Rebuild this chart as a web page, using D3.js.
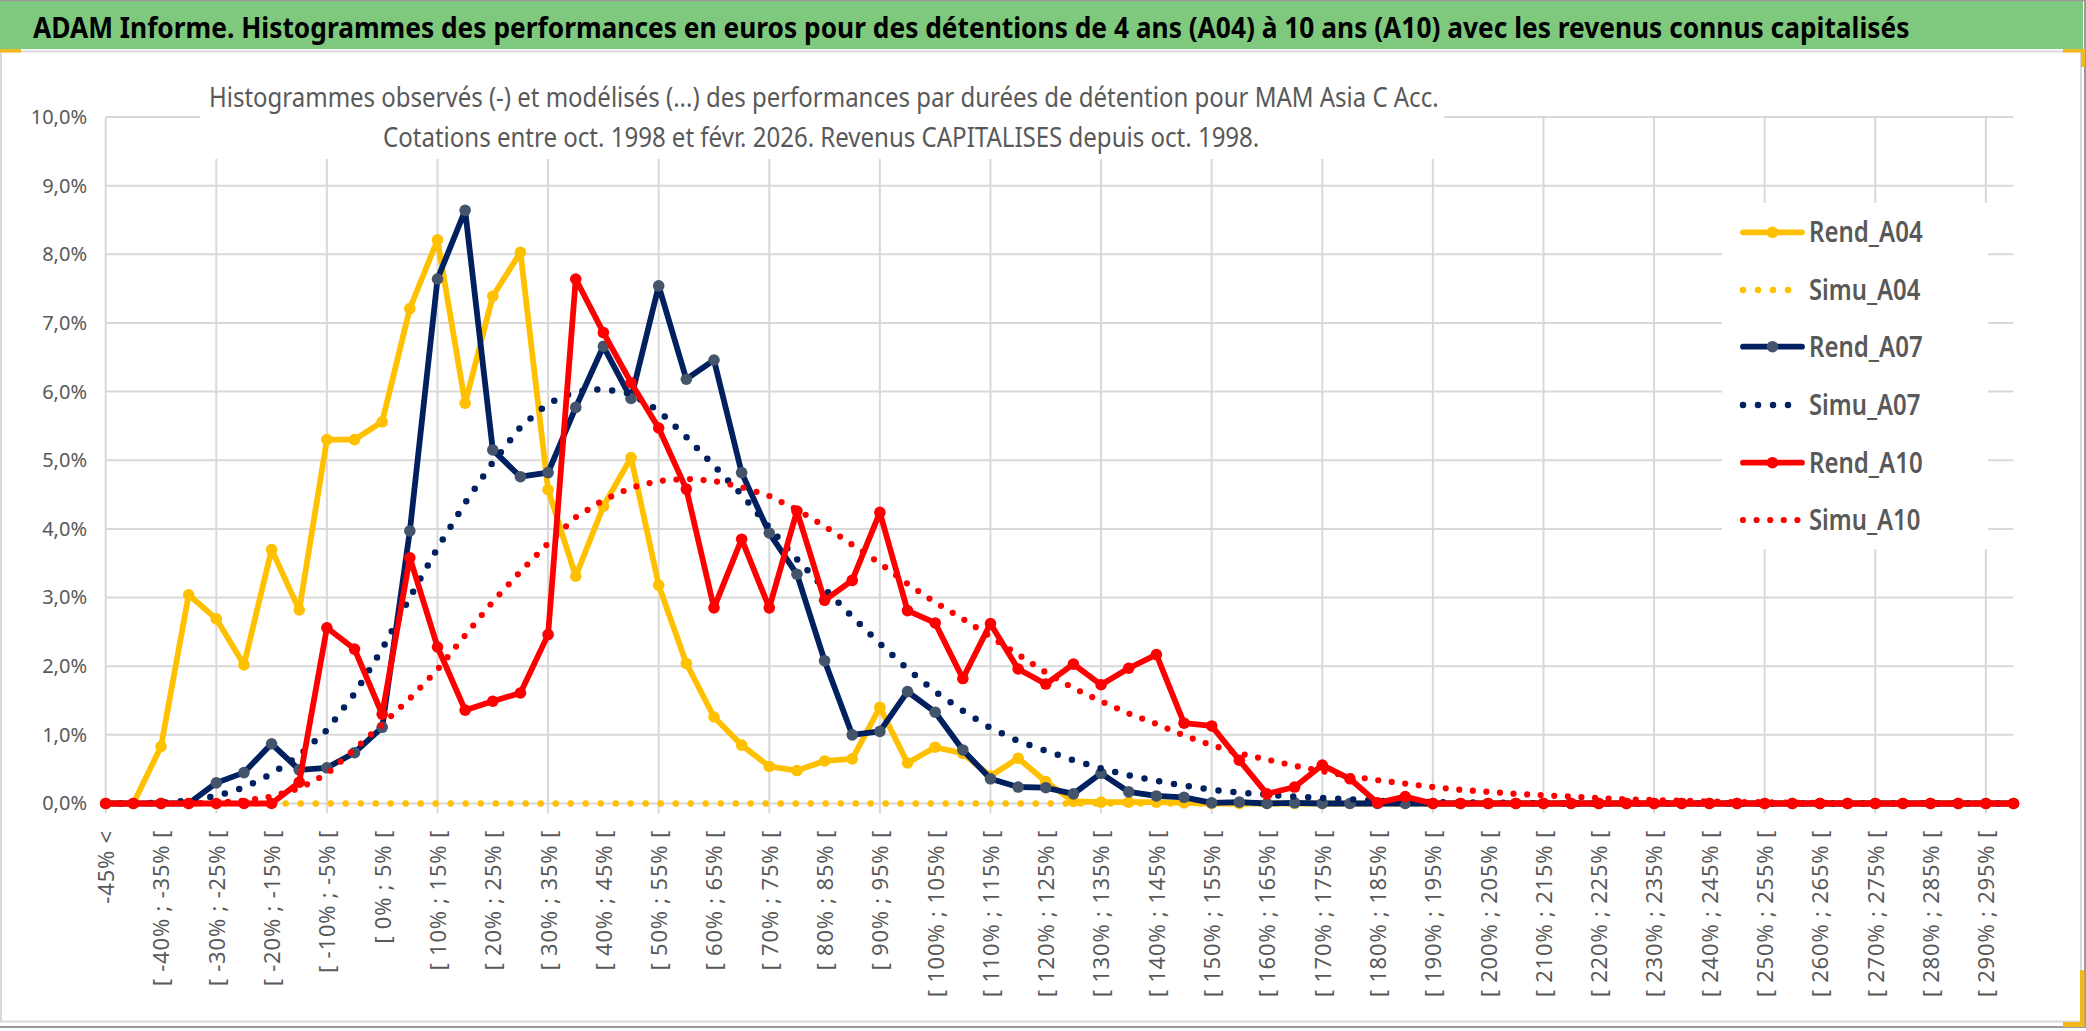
<!DOCTYPE html>
<html lang="fr">
<head>
  <meta charset="UTF-8">
  <title>ADAM Informe - Histogrammes des performances</title>
  <style>
    html, body { margin: 0; padding: 0; background: #fff; }
    svg { display: block; font-family: "Noto Sans", "Open Sans", sans-serif; }
  </style>
</head>
<body>
  <svg width="2086" height="1031" id="chart"></svg>
  <script src="https://cdn.jsdelivr.net/npm/d3@7/dist/d3.min.js"></script>
  <script>
    // classes de performance : "-45% <" puis [ b% ; b+5% [ de -45% a 300%
    const lowerBounds = d3.range(-45, 300, 5);
    const categories = ['-45% <'].concat(lowerBounds.map(b => `[ ${b}% ; ${b + 5}% [`));

    const yTicks = [0, 1, 2, 3, 4, 5, 6, 7, 8, 9, 10];

    // frequences en %
    const rendA04 = [0, 0, 0.83, 3.04, 2.69, 2.02, 3.70, 2.82, 5.30, 5.30,
      5.56, 7.21, 8.21, 5.83, 7.39, 8.03, 4.57, 3.31, 4.33, 5.04,
      3.18, 2.04, 1.26, 0.85, 0.54, 0.48, 0.62, 0.65, 1.40, 0.59,
      0.82, 0.73, 0.40, 0.66, 0.32, 0.03, 0.02, 0.02, 0.02, 0.01,
      0, 0, 0, 0, 0, 0, 0, 0, 0, 0,
      0, 0, 0, 0, 0, 0, 0, 0, 0, 0,
      0, 0, 0, 0, 0, 0, 0, 0, 0, 0];

    const simuA04 = [0, 0, 0, 0, 0, 0, 0, 0, 0, 0,
      0, 0, 0, 0, 0, 0, 0, 0, 0, 0,
      0, 0, 0, 0, 0, 0, 0, 0, 0, 0,
      0, 0, 0, 0, 0, 0, 0, 0, 0, 0,
      0, 0, 0, 0, 0, 0, 0, 0, 0, 0,
      0, 0, 0, 0, 0, 0, 0, 0, 0, 0,
      0, 0, 0, 0, 0, 0, 0, 0, 0, 0];

    const rendA07 = [0, 0, 0, 0, 0.30, 0.45, 0.87, 0.49, 0.52, 0.74,
      1.11, 3.97, 7.64, 8.64, 5.15, 4.76, 4.82, 5.77, 6.66, 5.90,
      7.54, 6.18, 6.46, 4.82, 3.94, 3.34, 2.08, 1.00, 1.05, 1.63,
      1.33, 0.78, 0.36, 0.24, 0.23, 0.14, 0.44, 0.17, 0.11, 0.09,
      0.01, 0.02, 0, 0.01, 0, 0, 0, 0, 0, 0,
      0, 0, 0, 0, 0, 0, 0, 0, 0, 0,
      0, 0, 0, 0, 0, 0, 0, 0, 0, 0];

    const simuA07 = [0, 0, 0.01, 0.04, 0.11, 0.23, 0.43, 0.70, 1.07, 1.60,
      2.25, 3.00, 3.72, 4.38, 4.97, 5.48, 5.83, 6.00, 6.04, 5.97,
      5.72, 5.34, 4.92, 4.50, 4.02, 3.56, 3.13, 2.72, 2.33, 1.96,
      1.63, 1.35, 1.10, 0.91, 0.77, 0.63, 0.51, 0.41, 0.33, 0.26,
      0.20, 0.16, 0.13, 0.10, 0.08, 0.06, 0.04, 0.03, 0.02, 0.02,
      0.01, 0.01, 0, 0, 0, 0, 0, 0, 0, 0,
      0, 0, 0, 0, 0, 0, 0, 0, 0, 0];

    const rendA10 = [0, 0, 0, 0, 0, 0, 0, 0.31, 2.56, 2.25,
      1.30, 3.58, 2.28, 1.36, 1.49, 1.61, 2.46, 7.64, 6.86, 6.13,
      5.47, 4.58, 2.85, 3.85, 2.85, 4.26, 2.96, 3.25, 4.24, 2.81,
      2.63, 1.82, 2.62, 1.96, 1.74, 2.03, 1.73, 1.97, 2.17, 1.17,
      1.13, 0.63, 0.14, 0.24, 0.56, 0.36, 0.01, 0.10, 0, 0,
      0, 0, 0, 0, 0, 0, 0, 0, 0, 0,
      0, 0, 0, 0, 0, 0, 0, 0, 0, 0];

    const simuA10 = [0, 0, 0, 0, 0.01, 0.04, 0.10, 0.22, 0.43, 0.79,
      1.15, 1.53, 1.95, 2.45, 2.94, 3.38, 3.79, 4.17, 4.42, 4.60,
      4.70, 4.73, 4.70, 4.61, 4.48, 4.28, 4.04, 3.77, 3.50, 3.20,
      2.93, 2.69, 2.43, 2.17, 1.91, 1.68, 1.49, 1.31, 1.16, 0.99,
      0.85, 0.73, 0.64, 0.55, 0.47, 0.40, 0.34, 0.29, 0.24, 0.20,
      0.17, 0.14, 0.12, 0.10, 0.08, 0.06, 0.05, 0.04, 0.03, 0.02,
      0.02, 0.01, 0.01, 0, 0, 0, 0, 0, 0, 0];

    const series = [
      { name: 'Rend_A04', values: rendA04, color: '#FFC000', marker: '#FFC000' },
      { name: 'Simu_A04', values: simuA04, color: '#FFC000', dot: 15 },
      { name: 'Rend_A07', values: rendA07, color: '#002060', marker: '#44546A' },
      { name: 'Simu_A07', values: simuA07, color: '#002060', dot: 15 },
      { name: 'Rend_A10', values: rendA10, color: '#FF0000', marker: '#FF0000' },
      { name: 'Simu_A10', values: simuA10, color: '#FF0000', dot: 13.6 }
    ];

    const titleText = 'ADAM Informe. Histogrammes des performances en euros pour des détentions de 4 ans (A04) à 10 ans (A10) avec les revenus connus capitalisés';
    const subtitle1 = 'Histogrammes observés (-) et modélisés (...) des performances par durées de détention pour MAM Asia C Acc.';
    const subtitle2 = 'Cotations entre oct. 1998 et févr. 2026. Revenus CAPITALISES depuis oct. 1998.';

    const svg = d3.select('#chart');
    const W = +svg.attr('width');
    const grey = '#595959';
    const gridColor = '#D9D9D9';

    const plot = { left: 105.7, right: 2013.5, top: 117, bottom: 803.5 };

    const x = d3.scalePoint().domain(categories).range([plot.left, plot.right]);
    const y = d3.scaleLinear().domain([0, 10]).range([plot.bottom, plot.top]);

    // resserre un texte a la largeur voulue (police plus large que l'original)
    function fitText(sel, x0, y0, width) {
      sel.attr('x', 0).attr('y', 0);
      const w = sel.node().getComputedTextLength();
      sel.attr('transform', `translate(${x0},${y0}) scale(${width / w},1)`);
    }

    // fond, bandeau vert, cadres
    svg.append('rect').attr('width', W).attr('height', 1031).attr('fill', '#fff');
    svg.append('rect').attr('x', 1).attr('y', 51.5).attr('width', 2080).attr('height', 970)
        .attr('fill', 'none').attr('stroke', gridColor).attr('stroke-width', 2);
    svg.append('rect').attr('x', 0).attr('y', 0).attr('width', 2083).attr('height', 49)
        .attr('fill', '#7EC97E');
    svg.append('line').attr('x1', 0).attr('x2', W).attr('y1', 0.5).attr('y2', 0.5)
        .attr('stroke', '#9a9a9a').attr('stroke-width', 1.5);
    svg.append('line').attr('x1', 2085).attr('x2', 2085).attr('y1', 0).attr('y2', 1028)
        .attr('stroke', '#9a9a9a').attr('stroke-width', 2);
    svg.append('line').attr('x1', 0).attr('x2', W).attr('y1', 1027).attr('y2', 1027)
        .attr('stroke', '#9a9a9a').attr('stroke-width', 2);

    // coins jaunes (selection)
    const corner = svg.append('g').attr('fill', '#F2B81E');
    corner.append('rect').attr('x', 0).attr('y', 49).attr('width', 21).attr('height', 3.5);
    corner.append('rect').attr('x', 2063).attr('y', 49).attr('width', 22).attr('height', 3.5);
    corner.append('rect').attr('x', 2081).attr('y', 49).attr('width', 4).attr('height', 18);
    corner.append('rect').attr('x', 2080).attr('y', 970).attr('width', 4.5).attr('height', 57);
    corner.append('rect').attr('x', 2063).attr('y', 1022).attr('width', 21).attr('height', 5);

    const title = svg.append('text')
        .attr('font-size', 29).attr('font-weight', 700).attr('fill', '#000')
        .text(titleText);
    fitText(title, 33, 38, 1877);

    // grilles
    const grid = svg.append('g').attr('stroke', gridColor).attr('stroke-width', 2);
    grid.selectAll('line.h').data(yTicks).join('line').attr('class', 'h')
        .attr('x1', plot.left).attr('x2', plot.right)
        .attr('y1', d => y(d)).attr('y2', d => y(d));
    grid.selectAll('line.v').data(categories.filter((d, i) => i % 4 === 0)).join('line').attr('class', 'v')
        .attr('x1', d => x(d)).attr('x2', d => x(d))
        .attr('y1', plot.top).attr('y2', plot.bottom + 10);

    // axe des ordonnees
    const yAxis = svg.append('g')
        .attr('transform', `translate(${plot.left},0)`)
        .call(d3.axisLeft(y).tickValues(yTicks).tickSize(0).tickPadding(18.7)
            .tickFormat(d => d.toFixed(1).replace('.', ',') + '%'));
    yAxis.select('.domain').remove();
    yAxis.selectAll('text').attr('font-size', 20).attr('fill', grey)
        .attr('font-family', '"Noto Sans", sans-serif');

    // axe des abscisses (une etiquette sur deux)
    const xAxis = svg.append('g')
        .attr('transform', `translate(0,${plot.bottom})`)
        .call(d3.axisBottom(x).tickValues(categories.filter((d, i) => i % 2 === 0)).tickSize(0));
    xAxis.select('.domain').remove();
    xAxis.selectAll('text')
        .attr('transform', 'rotate(-90)')
        .attr('text-anchor', 'end')
        .attr('x', -26.5).attr('y', 0).attr('dy', '0.36em')
        .attr('font-size', 22).attr('letter-spacing', 0.8).attr('fill', grey)
        .attr('font-family', '"Noto Sans", sans-serif');

    // sous-titre sur fond blanc
    svg.append('rect').attr('x', 200).attr('y', 60).attr('width', 1244).attr('height', 99).attr('fill', '#fff');
    const sub1 = svg.append('text').attr('font-size', 28).attr('fill', grey).text(subtitle1);
    fitText(sub1, 209, 106.5, 1230);
    const sub2 = svg.append('text').attr('font-size', 28).attr('fill', grey).text(subtitle2);
    fitText(sub2, 383, 147, 877);

    // courbes
    const line = d3.line()
        .x((d, i) => x(categories[i]))
        .y(d => y(d));

    series.forEach(s => {
      const g = svg.append('g');
      const path = g.append('path').datum(s.values)
          .attr('d', line)
          .attr('fill', 'none')
          .attr('stroke', s.color)
          .attr('stroke-linejoin', 'round')
          .attr('stroke-linecap', 'round');
      if (s.dot) {
        path.attr('stroke-width', s.dot > 14 ? 6.5 : 6.2).attr('stroke-dasharray', `0 ${s.dot}`);
      } else {
        path.attr('stroke-width', 5.8);
        g.selectAll('circle').data(s.values).join('circle')
            .attr('cx', (d, i) => x(categories[i]))
            .attr('cy', d => y(d))
            .attr('r', 5.8)
            .attr('fill', s.marker);
      }
    });

    // legende
    const legend = svg.append('g');
    legend.append('rect').attr('x', 1722).attr('y', 203).attr('width', 266).attr('height', 346).attr('fill', '#fff');
    const legendY = [232.3, 290, 346.7, 405, 462.7, 520];
    series.forEach((s, i) => {
      const cy = legendY[i];
      if (s.dot) {
        legend.append('line').attr('x1', 1743).attr('x2', 1800).attr('y1', cy).attr('y2', cy)
            .attr('stroke', s.color).attr('stroke-width', s.dot > 14 ? 6.5 : 6.2)
            .attr('stroke-linecap', 'round').attr('stroke-dasharray', `0 ${s.dot}`);
      } else {
        legend.append('line').attr('x1', 1743).attr('x2', 1802).attr('y1', cy).attr('y2', cy)
            .attr('stroke', s.color).attr('stroke-width', 5.8).attr('stroke-linecap', 'round');
        legend.append('circle').attr('cx', 1772.5).attr('cy', cy).attr('r', 5.8).attr('fill', s.marker);
      }
      const t = legend.append('text')
          .attr('font-size', 28).attr('font-weight', 600).attr('fill', grey)
          .text(s.name);
      fitText(t, 1809, cy + 10, s.dot ? 111.5 : 113.7);
    });
  </script>
</body>
</html>
